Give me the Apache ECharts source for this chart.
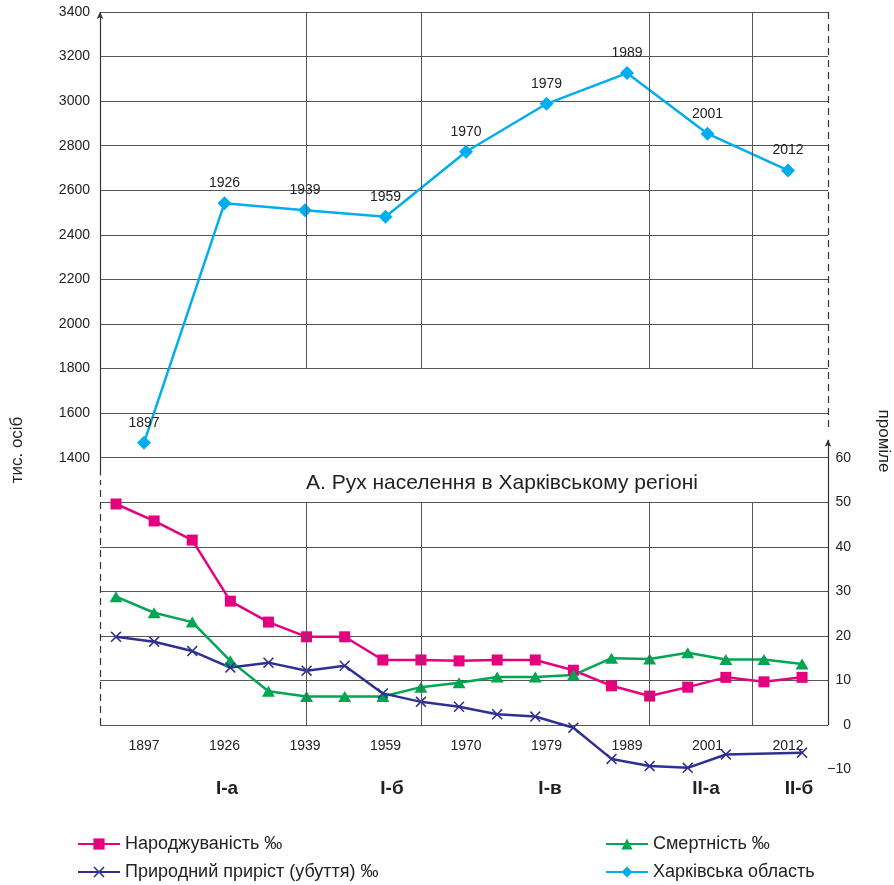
<!DOCTYPE html>
<html>
<head>
<meta charset="utf-8">
<script src="https://cdn.jsdelivr.net/npm/echarts@6/dist/echarts.min.js"></script>
<style>
html, body { margin: 0; padding: 0; background: #fff; }
#chart { width: 894px; height: 885px; }
</style>
</head>
<body>
<div id="chart"></div>
<script>
// population, thousands
var years = ['1897', '1926', '1939', '1959', '1970', '1979', '1989', '2001', '2012'];
var population = [1467, 2542, 2510, 2481, 2773, 2988, 3126, 2854, 2689];

// rates, per mille (19 observation points)
var birthRate = [49.6, 45.8, 41.5, 27.8, 23.1, 19.8, 19.8, 14.6, 14.6, 14.4, 14.6, 14.6, 12.3, 8.8, 6.5, 8.5, 10.7, 9.7, 10.7];
var deathRate = [28.8, 25.2, 23.1, 14.4, 7.6, 6.4, 6.4, 6.4, 8.5, 9.5, 10.8, 10.8, 11.2, 15.0, 14.8, 16.2, 14.7, 14.7, 13.7];
var naturalGrowth = [19.8, 18.7, 16.6, 12.9, 14.0, 12.2, 13.3, 7.1, 5.2, 4.1, 2.4, 1.9, -0.6, -7.6, -9.2, -9.6, -6.6, null, -6.2];

// period names and their boundaries (in rate-point index)
var periods = ['I-а', 'I-б', 'I-в', 'II-а', 'II-б'];
var periodBounds = [5, 8, 14, 16.7];

var FONT = 'Liberation Sans, Arial, sans-serif';
var RX_MIN = -0.42, RX_MAX = 18.68;
var GRID_COLOR = '#555';

var chart = echarts.init(document.getElementById('chart'));

function withIndex(arr) {
    return arr.map(function (v, i) { return [i, v]; });
}

// frame lines: period verticals and broken axis lines
var frameLines = [];
periodBounds.forEach(function (x) {
    frameLines.push([{coord: [x, 160], symbol: 'none', lineStyle: {color: GRID_COLOR, width: 1, type: 'solid'}}, {coord: [x, 80], symbol: 'none'}]);
    frameLines.push([{coord: [x, 50], symbol: 'none', lineStyle: {color: GRID_COLOR, width: 1, type: 'solid'}}, {coord: [x, 0], symbol: 'none'}]);
});
// left axis: solid with arrow on top, dashed in the lower part
frameLines.push([{coord: [RX_MIN, 56], symbol: 'none', lineStyle: {color: '#333', width: 1.2, type: 'solid'}}, {coord: [RX_MIN, 160], symbol: 'arrow', symbolSize: [5, 7]}]);
frameLines.push([{coord: [RX_MIN, 0], symbol: 'none', lineStyle: {color: '#333', width: 1.2, type: [7, 5]}}, {coord: [RX_MIN, 55], symbol: 'none'}]);
// right axis: dashed on top, solid with arrow below
frameLines.push([{coord: [RX_MAX, 160], symbol: 'none', lineStyle: {color: '#333', width: 1.2, type: [7, 5]}}, {coord: [RX_MAX, 66], symbol: 'none'}]);
frameLines.push([{coord: [RX_MAX, 0], symbol: 'none', lineStyle: {color: '#333', width: 1.2, type: 'solid'}}, {coord: [RX_MAX, 64], symbol: 'arrow', symbolSize: [5, 7]}]);

var periodX = [227, 392, 550, 706, 799];

var graphics = periods.map(function (p, i) {
    return {
        type: 'text', x: periodX[i], y: 789,
        style: {text: p, font: 'bold 19px ' + FONT, fill: '#222', align: 'center', verticalAlign: 'middle'}
    };
});
graphics.push({
    type: 'text', x: 17, y: 450, rotation: Math.PI / 2,
    style: {text: 'тис. осіб', font: '17px ' + FONT, fill: '#222', align: 'center', verticalAlign: 'middle'}
});
graphics.push({
    type: 'text', x: 884, y: 441, rotation: -Math.PI / 2,
    style: {text: 'проміле', font: '17px ' + FONT, fill: '#222', align: 'center', verticalAlign: 'middle'}
});

var option = {
    animation: false,
    textStyle: {fontFamily: FONT},
    title: {
        text: 'А. Рух населення в Харківському регіоні',
        left: 301,
        top: 468,
        textStyle: {fontFamily: FONT, fontSize: 21, fontWeight: 'normal', color: '#222'}
    },
    legend: [
        {
            orient: 'vertical', left: 77, top: 835, height: 60, padding: 0,
            itemWidth: 42, itemHeight: 14, itemGap: 10,
            textStyle: {fontSize: 18, color: '#222'},
            data: ['Народжуваність ‰', 'Природний приріст (убуття) ‰']
        },
        {
            orient: 'vertical', left: 605, top: 835, height: 60, padding: 0,
            itemWidth: 42, itemHeight: 14, itemGap: 10,
            textStyle: {fontSize: 18, color: '#222'},
            data: ['Смертність ‰', 'Харківська область']
        }
    ],
    grid: [
        {left: 100, top: 12, width: 728, height: 757.6},
        {left: 144, top: 12, width: 644, height: 713}
    ],
    xAxis: [
        {type: 'value', gridIndex: 0, min: RX_MIN, max: RX_MAX, show: false},
        {
            type: 'category', gridIndex: 1, data: years, boundaryGap: false,
            axisLine: {show: false}, axisTick: {show: false},
            axisLabel: {margin: 14, fontSize: 14, color: '#222'}
        }
    ],
    yAxis: [
        {
            type: 'value', gridIndex: 0, min: 0, max: 3400, interval: 200,
            axisLine: {show: false}, axisTick: {show: false},
            axisLabel: {
                margin: 10, fontSize: 14, color: '#222',
                formatter: function (v) { return v >= 1400 ? v : ''; }
            },
            splitLine: {show: true, showMinLine: false, lineStyle: {color: GRID_COLOR, width: 1}}
        },
        {
            type: 'value', gridIndex: 0, position: 'right', min: -10, max: 160, interval: 10,
            axisLine: {show: false}, axisTick: {show: false},
            axisLabel: {
                margin: 23, align: 'right', fontSize: 14, color: '#222',
                formatter: function (v) {
                    if (v > 60) return '';
                    return v < 0 ? '\u2212' + Math.abs(v) : v;
                }
            },
            splitLine: {show: false}
        },
        {type: 'value', gridIndex: 1, min: 200, max: 3400, show: false}
    ],
    graphic: graphics,
    series: [
        {
            name: 'Народжуваність ‰',
            type: 'line', xAxisIndex: 0, yAxisIndex: 1,
            data: withIndex(birthRate),
            color: '#e5007d',
            symbol: 'rect', symbolSize: 11,
            lineStyle: {width: 2.5},
            markLine: {silent: true, symbol: 'none', label: {show: false}, data: frameLines}
        },
        {
            name: 'Смертність ‰',
            type: 'line', xAxisIndex: 0, yAxisIndex: 1,
            data: withIndex(deathRate),
            color: '#00a651',
            symbol: 'triangle', symbolSize: [13, 11],
            lineStyle: {width: 2.5}
        },
        {
            name: 'Природний приріст (убуття) ‰',
            type: 'line', xAxisIndex: 0, yAxisIndex: 1,
            data: withIndex(naturalGrowth),
            connectNulls: true,
            color: '#2e3192',
            symbol: 'path://M0,1 L1,0 L5,4 L9,0 L10,1 L6,5 L10,9 L9,10 L5,6 L1,10 L0,9 L4,5 Z',
            symbolSize: 11,
            lineStyle: {width: 2.5}
        },
        {
            name: 'Харківська область',
            type: 'line', xAxisIndex: 1, yAxisIndex: 2,
            data: population,
            color: '#00aeef',
            symbol: 'diamond', symbolSize: 14,
            lineStyle: {width: 2.5},
            label: {show: true, position: 'top', distance: 6, formatter: '{b}', fontSize: 14, color: '#222'}
        }
    ]
};

chart.setOption(option);
</script>
</body>
</html>
